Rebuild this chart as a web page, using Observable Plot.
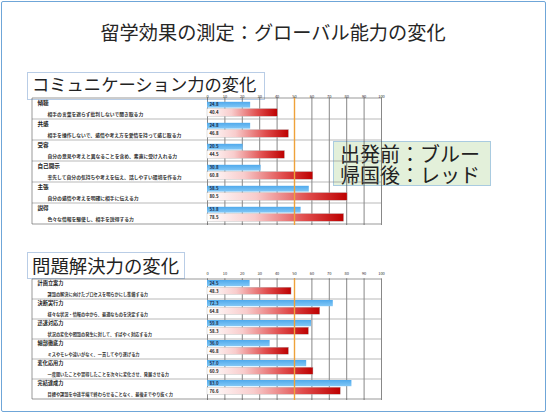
<!DOCTYPE html>
<html><head><meta charset="utf-8">
<script src="https://cdn.jsdelivr.net/npm/d3@7"></script>
<script src="https://cdn.jsdelivr.net/npm/@observablehq/plot@0.6"></script>
<style>
  html,body{margin:0;padding:0;background:#fff;}
  body{font-family:"Noto Sans CJK JP","Noto Sans",sans-serif;}
  #root{position:relative;width:546px;height:412px;overflow:hidden;}
  .frame{position:absolute;left:0.75px;top:0.75px;width:543px;height:409px;border:1.5px solid #6fa6d8;border-radius:2px;}
  .title{position:absolute;left:0;width:546px;top:18px;text-align:center;font-size:19.2px;color:#262626;line-height:28px;}
  .box{position:absolute;border:1px solid #b9cde6;background:#fff;box-sizing:border-box;}
  .subtext{position:absolute;color:#222;white-space:nowrap;line-height:1;}
  .legend{position:absolute;left:333px;top:141px;width:158px;height:45px;background:#e3f0da;border:1px solid #a9cbe0;font-size:20px;line-height:21px;color:#222;padding:1px 0 0 6px;box-sizing:border-box;white-space:nowrap;}
  .chart{position:absolute;left:30px;}
</style></head>
<body>
<svg width="0" height="0" style="position:absolute">
  <defs>
    <linearGradient id="redGrad" x1="0" y1="0" x2="1" y2="0">
      <stop offset="0" stop-color="#ffffff"/>
      <stop offset="0.35" stop-color="#f8cccc"/>
      <stop offset="0.72" stop-color="#e04c4c"/>
      <stop offset="1" stop-color="#bd0000"/>
    </linearGradient>
    <linearGradient id="blueGrad" x1="0" y1="0" x2="0" y2="1">
      <stop offset="0" stop-color="#4fa9ec"/>
      <stop offset="1" stop-color="#83c8f6"/>
    </linearGradient>
  </defs>
</svg>
<div id="root">
  <div class="frame"></div>
  <div class="title">留学効果の測定：グローバル能力の変化</div>
  <div class="box" style="left:27px;top:72px;width:238px;height:28px;"></div>
  <div class="subtext" style="left:32px;top:74.8px;font-size:17.3px;">コミュニケーション力の変化</div>
  <div class="box" style="left:27px;top:252px;width:158px;height:27px;"></div>
  <div class="subtext" style="left:32px;top:255.5px;font-size:18.4px;">問題解決力の変化</div>
  <div class="legend">出発前：ブルー<br>帰国後：レッド</div>
  <div class="chart" id="c1" style="top:86px"></div>
  <div class="chart" id="c2" style="top:266px"></div>
</div>
<script>
const tickValues = [0, 10, 20, 30, 40, 50, 60, 70, 80, 90, 100];

const commNames = ["傾聴", "共感", "受容", "自己開示", "主張", "説得"];
const commDescs = [
  "相手の言葉を遮らず批判しないで聞き取る力",
  "相手を操作しないで、感情や考え方を愛情を持って感じ取る力",
  "自分の意見や考えと異なることを含め、素直に受け入れる力",
  "率先して自分の気持ちや考えを伝え、話しやすい環境を作る力",
  "自分の感情や考えを明確に相手に伝える力",
  "色々な情報を駆使し、相手を説得する力"
];
const commBefore = [24.8, 24.8, 20.5, 30.8, 58.5, 53.8];
const commAfter = [40.4, 46.8, 44.5, 60.8, 80.5, 78.5];

const probNames = ["計画立案力", "決断実行力", "迅速対応力", "細部徹底力", "変化応用力", "完結達成力"];
const probDescs = [
  "課題の解決に向けたプロセスを明らかにし準備する力",
  "様々な状況・情報の中から、最適なものを決定する力",
  "状況の変化や問題の発生に対して、すばやく対応する力",
  "ミスやモレや違いがなく、一貫してやり遂げる力",
  "一度聞いたことや習得したことを次々に変化させ、発展させる力",
  "目標や課題を中途半端で終わらせることなく、最後までやり抜く力"
];
const probBefore = [24.5, 72.3, 59.8, 36.0, 57.0, 83.0];
const probAfter = [48.3, 64.8, 58.3, 46.8, 60.9, 76.6];

function tableLines(names) {
  return (index, scales, values, dims) => {
    const y = scales.y;
    const bw = y.bandwidth();
    const x0 = 2, x1 = dims.width - dims.marginRight;
    const g = d3.create("svg:g").attr("stroke", "#8a8a8a").attr("stroke-width", 0.6).attr("fill", "none");
    names.forEach((n, i) => {
      const yy = y(n);
      if (i > 0) g.append("line").attr("x1", x0).attr("x2", x1).attr("y1", yy).attr("y2", yy);
    });
    const top = y(names[0]), bot = y(names[names.length - 1]) + bw;
    g.append("line").attr("x1", x0).attr("x2", x1).attr("y1", top).attr("y2", top).attr("stroke", "#555");
    g.append("line").attr("x1", x0).attr("x2", x1).attr("y1", bot).attr("y2", bot).attr("stroke", "#555");
    g.append("line").attr("x1", x0).attr("x2", x0).attr("y1", top).attr("y2", bot).attr("stroke", "#555");
    return g.node();
  };
}

function chart(cfg) {
  const rows = cfg.names.map((n, i) => ({name: n, desc: cfg.descs[i], before: cfg.before[i], after: cfg.after[i]}));
  return Plot.plot({
    width: 360,
    height: cfg.height,
    marginLeft: 177,
    marginRight: 9,
    marginTop: cfg.marginTop,
    marginBottom: 3,
    x: {domain: [0, 100], axis: null},
    y: {domain: cfg.names, axis: null, padding: 0},
    style: {fontFamily: "'Noto Sans CJK JP', sans-serif", background: "transparent", color: "#222"},
    marks: [
      Plot.ruleX(tickValues, {stroke: "#555", strokeWidth: 0.7}),
      tableLines(cfg.names),
      Plot.barX(rows, {y: "name", x: "before", fill: "url(#blueGrad)", insetTop: cfg.bTop, insetBottom: cfg.bBot}),
      Plot.barX(rows, {y: "name", x: "after", fill: "url(#redGrad)", stroke: "#b5b5b5", strokeWidth: 0.4, insetTop: cfg.rTop, insetBottom: cfg.rBot}),
      Plot.ruleX([50], {stroke: "#efa23a", strokeWidth: 1.4}),
      Plot.text(rows, {y: "name", x: 0, text: d => d.before.toFixed(1), dx: 2, dy: cfg.bDy, textAnchor: "start", fontSize: 4.3, fontWeight: "bold", fill: "#1a2a4a"}),
      Plot.text(rows, {y: "name", x: 0, text: d => d.after.toFixed(1), dx: 2, dy: cfg.rDy, textAnchor: "start", fontSize: 4.3, fontWeight: "bold", fill: "#222"}),
      Plot.text(rows, {y: "name", text: "name", frameAnchor: "left", dx: -170, dy: cfg.hDy, textAnchor: "start", fontSize: cfg.hSize, fontWeight: "bold", fill: "#222"}),
      Plot.text(rows, {y: "name", text: "desc", frameAnchor: "left", dx: -160, dy: cfg.dDy, textAnchor: "start", fontSize: cfg.dSize, fontWeight: "bold", fill: "#333"}),
      Plot.axisX({anchor: "top", ticks: tickValues, tickSize: 0, tickPadding: cfg.tickPad, fontSize: 4, tickFormat: d => String(d), fill: "#333"})
    ]
  });
}

document.getElementById("c1").append(chart({
  names: commNames, descs: commDescs, before: commBefore, after: commAfter,
  height: 142, marginTop: 11.5,
  bTop: 3.8, bBot: 11.4, rTop: 10.6, rBot: 2.8,
  bDy: -3.9, rDy: 3.9, hDy: -5.3, dDy: 5.8, hSize: 5.6, dSize: 4.8, tickPad: 0
}));
document.getElementById("c2").append(chart({
  names: probNames, descs: probDescs, before: probBefore, after: probAfter,
  height: 137, marginTop: 12.3,
  bTop: 1, bBot: 12.8, rTop: 8.2, rBot: 4.8,
  bDy: -5.9, rDy: 1.7, hDy: -6, dDy: 5.6, hSize: 5.2, dSize: 4.2, tickPad: 4
}));
</script>
</body></html>
